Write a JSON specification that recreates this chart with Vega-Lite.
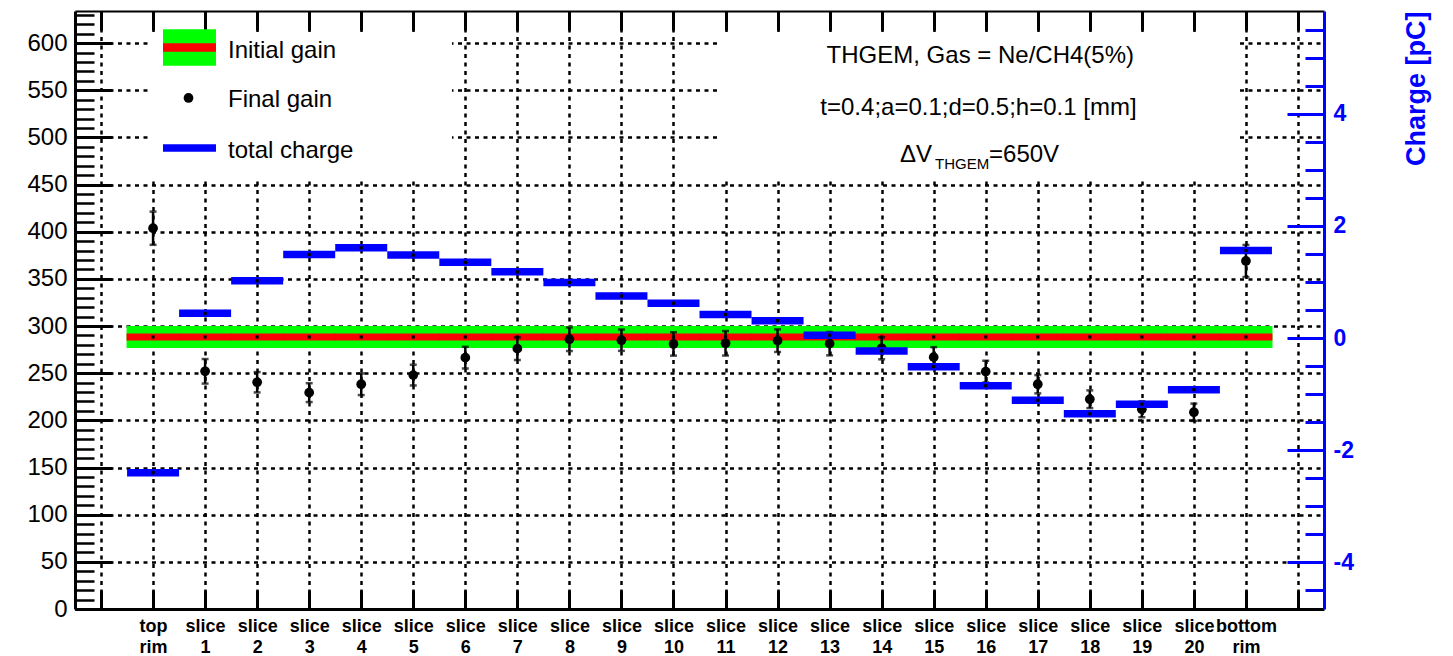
{
  "$schema": "https://vega.github.io/schema/vega-lite/v6.json",
  "width": 1249,
  "height": 598,
  "autosize": {"type": "none"},
  "padding": {"left": 75, "top": 11, "right": 129, "bottom": 47},
  "background": "white",
  "config": {"view": {"stroke": null}, "font": "Liberation Sans", "axis": {"labelFont": "Liberation Sans", "titleFont": "Liberation Sans"}},
  "data": {"values": [
    {"bin": 1, "label": "top rim", "initial": 288.4, "final": 403.7, "err": 17.6, "charge": -2.40},
    {"bin": 2, "label": "slice 1", "initial": 288.4, "final": 252.0, "err": 13.0, "charge": 0.44},
    {"bin": 3, "label": "slice 2", "initial": 288.4, "final": 240.4, "err": 10.8, "charge": 1.02},
    {"bin": 4, "label": "slice 3", "initial": 288.4, "final": 229.4, "err": 10.0, "charge": 1.49},
    {"bin": 5, "label": "slice 4", "initial": 288.4, "final": 238.3, "err": 11.5, "charge": 1.61},
    {"bin": 6, "label": "slice 5", "initial": 288.4, "final": 248.0, "err": 11.0, "charge": 1.48},
    {"bin": 7, "label": "slice 6", "initial": 288.4, "final": 266.5, "err": 11.5, "charge": 1.35},
    {"bin": 8, "label": "slice 7", "initial": 288.4, "final": 276.0, "err": 12.0, "charge": 1.18},
    {"bin": 9, "label": "slice 8", "initial": 288.4, "final": 286.0, "err": 12.5, "charge": 0.99},
    {"bin": 10, "label": "slice 9", "initial": 288.4, "final": 285.0, "err": 11.3, "charge": 0.75},
    {"bin": 11, "label": "slice 10", "initial": 288.4, "final": 281.0, "err": 12.4, "charge": 0.62},
    {"bin": 12, "label": "slice 11", "initial": 288.4, "final": 281.7, "err": 13.0, "charge": 0.42},
    {"bin": 13, "label": "slice 12", "initial": 288.4, "final": 284.5, "err": 12.0, "charge": 0.31},
    {"bin": 14, "label": "slice 13", "initial": 288.4, "final": 281.3, "err": 12.4, "charge": 0.05},
    {"bin": 15, "label": "slice 14", "initial": 288.4, "final": 276.4, "err": 11.7, "charge": -0.23},
    {"bin": 16, "label": "slice 15", "initial": 288.4, "final": 267.0, "err": 10.6, "charge": -0.51},
    {"bin": 17, "label": "slice 16", "initial": 288.4, "final": 251.7, "err": 11.5, "charge": -0.85},
    {"bin": 18, "label": "slice 17", "initial": 288.4, "final": 238.3, "err": 9.7, "charge": -1.11},
    {"bin": 19, "label": "slice 18", "initial": 288.4, "final": 222.4, "err": 9.4, "charge": -1.35},
    {"bin": 20, "label": "slice 19", "initial": 288.4, "final": 211.8, "err": 8.5, "charge": -1.18},
    {"bin": 21, "label": "slice 20", "initial": 288.4, "final": 208.6, "err": 9.2, "charge": -0.92},
    {"bin": 22, "label": "bottom rim", "initial": 288.4, "final": 369.0, "err": 17.0, "charge": 1.56}
  ]},
  "layer": [
    {
      "layer": [
        {
          "mark": {"type": "tick", "orient": "horizontal", "color": "#00ff00", "size": 53, "thickness": 22, "opacity": 1},
          "encoding": {
            "x": {"field": "bin", "type": "quantitative", "title": null,
              "scale": {"domain": [-0.5, 23.5], "nice": false, "zero": false},
              "axis": {"orient": "bottom", "title": null, "values": [0,1,2,3,4,5,6,7,8,9,10,11,12,13,14,15,16,17,18,19,20,21,22,23], "tickCount": 100,
                "grid": true, "gridColor": "black", "gridDash": [4, 4.5], "gridWidth": 2.5,
                "tickSize": -19, "tickWidth": 3, "tickColor": "black",
                "domainColor": "black", "domainWidth": 3,
                "labelPadding": 27, "labelFontSize": 18, "labelFontWeight": "bold", "labelColor": "black",
                "labelBaseline": "top", "labelLineHeight": 21, "labelOverlap": false, "labelFlush": false, "labelBound": false,
                "labelExpr": "datum.value >= 1 && datum.value <= 22 ? split(['top rim','slice 1','slice 2','slice 3','slice 4','slice 5','slice 6','slice 7','slice 8','slice 9','slice 10','slice 11','slice 12','slice 13','slice 14','slice 15','slice 16','slice 17','slice 18','slice 19','slice 20','bottom rim'][datum.value - 1], ' ') : ''"}},
            "y": {"field": "initial", "type": "quantitative", "title": null,
              "scale": {"domain": [0, 634], "nice": false, "zero": false},
              "axis": {"orient": "left", "title": null, "values": [0,50,100,150,200,250,300,350,400,450,500,550,600], "tickCount": 100,
                "grid": true, "gridColor": "black", "gridDash": [4, 4.5], "gridWidth": 2.5,
                "tickSize": -37, "tickWidth": 3, "tickColor": "black",
                "domainColor": "black", "domainWidth": 3,
                "labelPadding": 45, "labelFontSize": 24, "labelColor": "black", "labelFlush": false}}
          }
        },
        {
          "mark": {"type": "tick", "orient": "horizontal", "color": "#ff0000", "size": 53, "thickness": 7, "opacity": 1},
          "encoding": {
            "x": {"field": "bin", "type": "quantitative", "title": null},
            "y": {"field": "initial", "type": "quantitative", "title": null}
          }
        },
        {
          "mark": {"type": "point", "shape": "square", "filled": true, "color": "black", "size": 10, "opacity": 1},
          "encoding": {
            "x": {"field": "bin", "type": "quantitative", "title": null},
            "y": {"field": "initial", "type": "quantitative", "title": null}
          }
        },
        {
          "data": {"values": [{}]},
          "layer": [
            {"mark": {"type": "rect", "color": "white", "opacity": 1},
             "encoding": {"x": {"datum": 0.96}, "x2": {"datum": 6.744}, "y": {"datum": 456.9}, "y2": {"datum": 611.7}}},
            {"mark": {"type": "rect", "color": "white", "opacity": 1},
             "encoding": {"x": {"datum": 11.913}, "x2": {"datum": 21.848}, "y": {"datum": 456.9}, "y2": {"datum": 611.7}}},
            {"mark": {"type": "rect", "color": "#00ff00", "opacity": 1},
             "encoding": {"x": {"datum": 1.191}, "x2": {"datum": 2.209}, "y": {"datum": 576.0}, "y2": {"datum": 614.6}}},
            {"mark": {"type": "rect", "color": "#ff0000", "opacity": 1},
             "encoding": {"x": {"datum": 1.191}, "x2": {"datum": 2.209}, "y": {"datum": 590.9}, "y2": {"datum": 599.8}}},
            {"mark": {"type": "circle", "color": "black", "size": 95, "opacity": 1},
             "encoding": {"x": {"datum": 1.681}, "y": {"datum": 541.8}}},
            {"mark": {"type": "rect", "color": "#0000ff", "opacity": 1},
             "encoding": {"x": {"datum": 1.191}, "x2": {"datum": 2.209}, "y": {"datum": 484.7}, "y2": {"datum": 492.8}}},
            {"mark": {"type": "text", "fontSize": 24, "align": "left", "baseline": "alphabetic", "color": "black"},
             "encoding": {"x": {"datum": 2.44}, "y": {"datum": 583.9}, "text": {"value": "Initial gain"}}},
            {"mark": {"type": "text", "fontSize": 24, "align": "left", "baseline": "alphabetic", "color": "black"},
             "encoding": {"x": {"datum": 2.44}, "y": {"datum": 532.5}, "text": {"value": "Final gain"}}},
            {"mark": {"type": "text", "fontSize": 24, "align": "left", "baseline": "alphabetic", "color": "black"},
             "encoding": {"x": {"datum": 2.44}, "y": {"datum": 478.2}, "text": {"value": "total charge"}}},
            {"mark": {"type": "text", "fontSize": 24, "align": "center", "baseline": "alphabetic", "color": "black"},
             "encoding": {"x": {"datum": 16.896}, "y": {"datum": 578.9}, "text": {"value": "THGEM, Gas = Ne/CH4(5%)"}}},
            {"mark": {"type": "text", "fontSize": 24, "align": "center", "baseline": "alphabetic", "color": "black"},
             "encoding": {"x": {"datum": 16.86}, "y": {"datum": 523.7}, "text": {"value": "t=0.4;a=0.1;d=0.5;h=0.1 [mm]"}}},
            {"mark": {"type": "text", "fontSize": 24, "align": "right", "baseline": "alphabetic", "color": "black"},
             "encoding": {"x": {"datum": 15.968}, "y": {"datum": 474.3}, "text": {"value": "ΔV"}}},
            {"mark": {"type": "text", "fontSize": 15, "align": "left", "baseline": "alphabetic", "color": "black"},
             "encoding": {"x": {"datum": 16.026}, "y": {"datum": 466.9}, "text": {"value": "THGEM"}}},
            {"mark": {"type": "text", "fontSize": 24, "align": "left", "baseline": "alphabetic", "color": "black"},
             "encoding": {"x": {"datum": 17.064}, "y": {"datum": 474.3}, "text": {"value": "=650V"}}}
          ]
        }
      ]
    },
    {
      "layer": [
        {
          "mark": {"type": "errorbar", "color": "black", "ticks": {"size": 7, "thickness": 2.5, "color": "black"}, "rule": {"strokeWidth": 2.5, "color": "black"}},
          "encoding": {
            "x": {"field": "bin", "type": "quantitative", "title": null, "scale": {"domain": [-0.5, 23.5], "nice": false, "zero": false}},
            "y": {"field": "final", "type": "quantitative", "title": null, "scale": {"domain": [0, 634], "nice": false, "zero": false}},
            "yError": {"field": "err"}
          }
        },
        {
          "mark": {"type": "circle", "color": "black", "size": 95, "opacity": 1},
          "encoding": {
            "x": {"field": "bin", "type": "quantitative", "title": null,
              "axis": {"orient": "top", "title": null, "values": [0,1,2,3,4,5,6,7,8,9,10,11,12,13,14,15,16,17,18,19,20,21,22,23], "tickCount": 100,
                "labels": false, "grid": false, "tickSize": -19, "tickWidth": 3, "tickColor": "black", "domainColor": "black", "domainWidth": 2}},
            "y": {"field": "final", "type": "quantitative", "title": null,
              "axis": {"orient": "left", "title": null, "tickCount": 100, "values": [0,10,20,30,40,50,60,70,80,90,100,110,120,130,140,150,160,170,180,190,200,210,220,230,240,250,260,270,280,290,300,310,320,330,340,350,360,370,380,390,400,410,420,430,440,450,460,470,480,490,500,510,520,530,540,550,560,570,580,590,600,610,620,630],
                "labels": false, "grid": false, "domain": false, "tickSize": -19, "tickWidth": 2.5, "tickColor": "black"}}
          }
        }
      ]
    },
    {
      "mark": {"type": "tick", "orient": "horizontal", "color": "#0000ff", "size": 52, "thickness": 7.5, "opacity": 1},
      "encoding": {
        "x": {"field": "bin", "type": "quantitative", "title": null, "scale": {"domain": [-0.5, 23.5], "nice": false, "zero": false}, "axis": null},
        "y": {"field": "charge", "type": "quantitative",
          "scale": {"domain": [-4.83, 5.83], "nice": false, "zero": false},
          "axis": {"orient": "right", "title": "Charge [pC]", "values": [-4, -2, 0, 2, 4], "tickCount": 100,
            "labelExpr": "(datum.value < 0 ? '-' : '') + abs(datum.value)",
            "titleColor": "#0000ff", "titleFontSize": 27, "titleFontWeight": "bold", "titleAngle": 270,
            "titleAnchor": "end", "titleAlign": "right", "titleBaseline": "top", "titlePadding": 50,
            "labelColor": "#0000ff", "labelFontSize": 23, "labelFontWeight": "bold", "labelPadding": 46, "labelFlush": false,
            "tickSize": -37, "tickWidth": 3, "tickColor": "#0000ff", "domainColor": "#0000ff", "domainWidth": 3, "grid": false}}
      }
    },
    {
      "mark": {"type": "point", "shape": "square", "filled": true, "color": "black", "size": 10, "opacity": 1},
      "encoding": {
        "x": {"field": "bin", "type": "quantitative", "title": null, "scale": {"domain": [-0.5, 23.5], "nice": false, "zero": false}, "axis": null},
        "y": {"field": "charge", "type": "quantitative", "title": null,
          "scale": {"domain": [-4.83, 5.83], "nice": false, "zero": false},
          "axis": {"orient": "right", "title": null, "tickCount": 100, "values": [-4.5,-4,-3.5,-3,-2.5,-2,-1.5,-1,-0.5,0,0.5,1,1.5,2,2.5,3,3.5,4,4.5,5,5.5],
            "labels": false, "grid": false, "domain": false, "tickSize": -19, "tickWidth": 3, "tickColor": "#0000ff"}}
      }
    }
  ],
  "resolve": {"scale": {"x": "independent", "y": "independent"}, "axis": {"x": "independent", "y": "independent"}}
}
